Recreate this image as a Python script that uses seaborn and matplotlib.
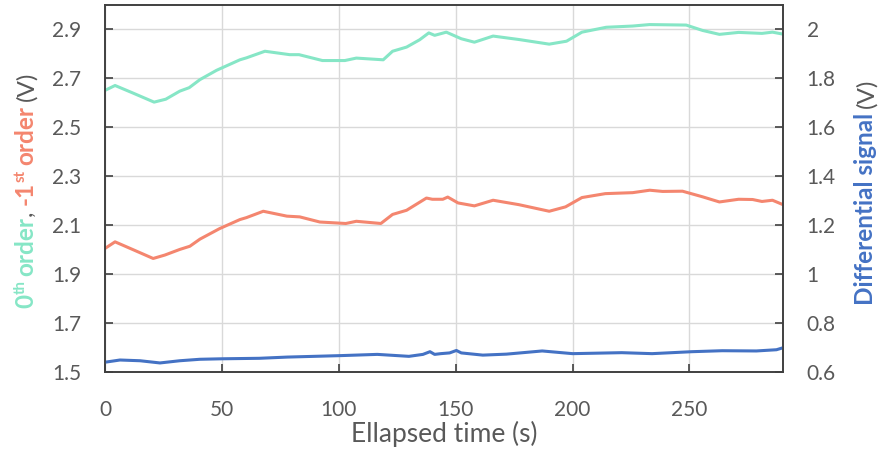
import matplotlib
matplotlib.use("Agg")
import matplotlib.pyplot as plt
from matplotlib.transforms import IdentityTransform
import numpy as np
import pandas as pd
import seaborn as sns

# 0th order (left axis)
t_zero = [0, 4.3, 12, 21, 26, 32, 36, 40.6, 47.7, 57.7, 60.5, 68.4, 79, 83, 93, 102.6, 107.5, 119,
          123, 129, 134.6, 138.5, 141, 146, 152.4, 158, 166, 177, 190, 197.4, 204, 214.4, 225.7,
          232.9, 248.6, 255.6, 262.8, 271, 281, 285.5, 290]
v_zero = [2.651, 2.671, 2.640, 2.603, 2.615, 2.648, 2.662, 2.695, 2.733, 2.776, 2.784, 2.811, 2.797,
          2.797, 2.773, 2.773, 2.783, 2.776, 2.811, 2.828, 2.858, 2.886, 2.876, 2.889, 2.862, 2.848,
          2.873, 2.859, 2.840, 2.852, 2.889, 2.909, 2.914, 2.920, 2.918, 2.896, 2.880, 2.888, 2.884,
          2.889, 2.881]

# -1st order (left axis)
t_first = [0, 4.3, 12, 20.6, 25.6, 32, 36.3, 40.6, 49, 57.7, 60.5, 67.7, 77.8, 83.3, 91.9, 103,
           107.5, 118, 123, 129, 137.5, 140, 144.5, 146.6, 151, 158, 166, 177, 190, 197, 204, 214,
           225.7, 233, 238.5, 247, 255.6, 262.8, 271, 277, 281, 285.5, 290]
v_first = [2.005, 2.032, 2.000, 1.964, 1.978, 2.001, 2.014, 2.043, 2.086, 2.123, 2.131, 2.157, 2.137,
           2.134, 2.113, 2.107, 2.116, 2.107, 2.144, 2.161, 2.211, 2.206, 2.206, 2.215, 2.191, 2.179,
           2.202, 2.184, 2.157, 2.175, 2.213, 2.229, 2.233, 2.243, 2.238, 2.239, 2.216, 2.195, 2.206,
           2.205, 2.197, 2.202, 2.184]

# differential signal (right axis)
t_diff = [0, 6.4, 15, 23.5, 32, 40.6, 50, 66, 78, 100.9, 116.5, 130, 136, 139, 141, 143.6, 147.4,
          150.3, 152.4, 161.6, 171.7, 187, 200, 221, 234, 251, 264, 278.6, 287.2, 290]
v_diff = [0.640, 0.649, 0.646, 0.637, 0.646, 0.652, 0.654, 0.656, 0.661, 0.667, 0.672, 0.664, 0.672,
          0.683, 0.672, 0.675, 0.678, 0.688, 0.678, 0.669, 0.673, 0.686, 0.675, 0.679, 0.675, 0.683,
          0.687, 0.686, 0.691, 0.699]

x_ticks = [0, 50, 100, 150, 200, 250]
left_ticks = [1.5, 1.7, 1.9, 2.1, 2.3, 2.5, 2.7, 2.9]
right_ticks = [0.6, 0.8, 1.0, 1.2, 1.4, 1.6, 1.8, 2.0]
right_labels = ["0.6", "0.8", "1", "1.2", "1.4", "1.6", "1.8", "2"]

GREEN = "#86E6C6"
SALMON = "#F4866F"
BLUE = "#4472C4"
GREY = "#595959"

sns.set_style("white")
plt.rcParams['font.family'] = ['Lato', 'DejaVu Sans']

fig = plt.figure(figsize=(8.81, 4.54), dpi=100)
ax = fig.add_axes([105 / 881, 82 / 454, 678 / 881, 367 / 454])
ax2 = ax.twinx()

sns.lineplot(x=t_zero, y=v_zero, ax=ax, color=GREEN, linewidth=2.2)
sns.lineplot(x=t_first, y=v_first, ax=ax, color=SALMON, linewidth=2.2)
sns.lineplot(x=t_diff, y=v_diff, ax=ax2, color=BLUE, linewidth=2.2)

ax.set_xlim(0, 290)
ax.set_ylim(1.5, 3.0)
ax2.set_ylim(0.6, 2.1)

ax.set_xticks(x_ticks)
ax.set_yticks(left_ticks)
ax.set_yticklabels([f"{v:.1f}" for v in left_ticks])
ax2.set_yticks(right_ticks)
ax2.set_yticklabels(right_labels)

ax.grid(True, color="#D9D9D9", linewidth=1)
ax.set_axisbelow(True)
ax2.grid(False)

for a in (ax, ax2):
    for sp in a.spines.values():
        sp.set_visible(True)
        sp.set_color("#404040")
        sp.set_linewidth(1.2)
ax.tick_params(axis="y", direction="in", length=6, width=1.2, color="#404040",
               labelsize=15, labelcolor=GREY, pad=17, left=True)
ax.tick_params(axis="x", direction="in", length=6, width=1.2, color="#404040",
               labelsize=15, labelcolor=GREY, pad=20, bottom=True)
ax2.tick_params(axis="y", direction="in", length=6, width=1.2, color="#404040",
                labelsize=15, labelcolor=GREY, pad=17, right=True)

ax.set_xlabel("Ellapsed time (s)", fontsize=19, color=GREY, labelpad=1)
ax.set_ylabel("")
ax2.set_ylabel("")


def vertical_label(parts, x, yc):
    r = fig.canvas.get_renderer()
    placed = []
    total = 0
    for s, col, size, weight, raise_px, gap in parts:
        t = fig.text(0, 0, s, color=col, fontsize=size, fontweight=weight, rotation=90,
                     rotation_mode="anchor", ha="left", va="baseline",
                     transform=IdentityTransform())
        h = t.get_window_extent(r).height
        placed.append((t, raise_px, gap, h))
        total += h + gap
    y = yc - total / 2
    for t, rp, gap, h in placed:
        y += gap
        t.set_position((x - rp, y))
        y += h


LS = 17.5
left_parts = [
    ("0", GREEN, LS, "bold", 0, 0),
    ("th", GREEN, LS * 0.62, "bold", 8, 0),
    ("order", GREEN, LS, "bold", 0, 5),
    (",", GREY, LS, "normal", 0, 0),
    ("-1", SALMON, LS, "bold", 0, 6),
    ("st", SALMON, LS * 0.62, "bold", 8, 0),
    ("order", SALMON, LS, "bold", 0, 5),
    ("(V)", GREY, LS, "normal", 0, 5),
]
vertical_label(left_parts, 33, 264)

right_parts = [
    ("Differential signal", BLUE, LS, "bold", 0, 0),
    ("(V)", GREY, LS, "normal", 0, 5),
]
vertical_label(right_parts, 873, 262)

fig.savefig("out.png", dpi=100)
